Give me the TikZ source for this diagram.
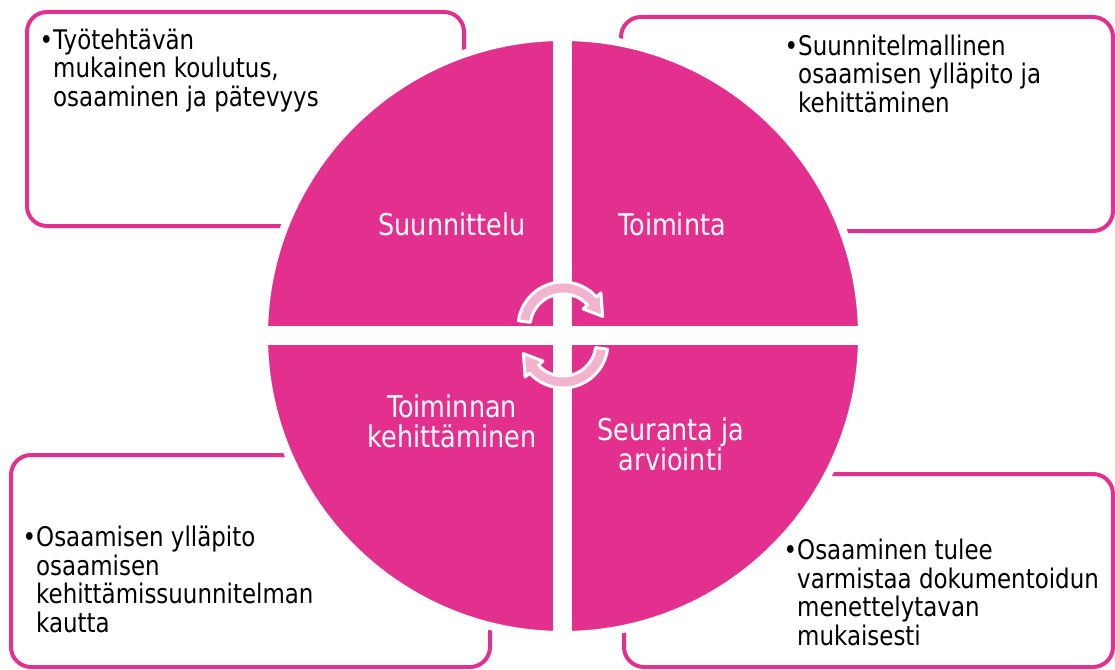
\documentclass[tikz,border=0pt]{standalone}
\usepackage{fontspec}
\setmainfont[FakeStretch=0.85]{DejaVu Sans}
\usetikzlibrary{positioning}
\definecolor{phasepink}{HTML}{E3308F}
\definecolor{cyclepink}{HTML}{F2B3CF}

\begin{document}
\begin{tikzpicture}[x=1pt,y=-1pt,
    infobox/.style={draw=phasepink, line width=4pt, rounded corners=20pt},
    boxtext/.style={align=left, anchor=base west, inner sep=0pt, font=\fontsize{27}{28.5}\selectfont},
    phase/.style={align=center, anchor=base, inner sep=0pt, text=white, font=\fontsize{30}{29.5}\selectfont},
    cyclearrow/.style={fill=cyclepink, draw=white, line width=3pt, line join=round}]
  \useasboundingbox (0,0) rectangle (1115,669);
  % text boxes behind the circle
  \draw[infobox] (27,12) rectangle (464,226); % top left
  \draw[infobox] (621,17) rectangle (1113,231); % top right
  \draw[infobox] (11,455) rectangle (490,667); % bottom left
  \draw[infobox] (624,474) rectangle (1113,667); % bottom right
  % circle and the white cross
  \filldraw[fill=phasepink, draw=white, line width=8pt] (563,336) circle[radius=299];
  \fill[white] (553,31) rectangle (572,641);
  \fill[white] (258,326) rectangle (868,345);
  % cycle arrows
  \coordinate (topc) at (563,327);
  \coordinate (botc) at (563,343);
  \draw[cyclearrow] ([shift={(188:45)}]topc) arc[start angle=188, end angle=318, radius=45]
    -- ([shift={(318:51)}]topc) -- ([shift={(345:41)}]topc) -- ([shift={(318:27)}]topc)
    -- ([shift={(318:33)}]topc) arc[start angle=318, end angle=188, radius=33] -- cycle;
  \draw[cyclearrow] ([shift={(8:45)}]botc) arc[start angle=8, end angle=138, radius=45]
    -- ([shift={(138:51)}]botc) -- ([shift={(165:41)}]botc) -- ([shift={(138:27)}]botc)
    -- ([shift={(138:33)}]botc) arc[start angle=138, end angle=8, radius=33] -- cycle;
  % phase labels (anchored at the last line)
  \node[phase] (plan) at (452,235) {Suunnittelu};
  \node[phase] (act) at (672,235) {Toiminta};
  \node[phase] (improve) at (452,447) {Toiminnan\\kehittäminen};
  \node[phase] (check) at (671,470) {Seuranta ja\\arviointi};
  % box texts (anchored at the last line)
  \node[boxtext] (plantext) at (53,106) {\llap{•}Työtehtävän\\mukainen koulutus,\\osaaminen ja pätevyys};
  \node[boxtext] (acttext) at (798,112) {\llap{•}Suunnitelmallinen\\osaamisen ylläpito ja\\kehittäminen};
  \node[boxtext] (improvetext) at (36,632) {\llap{•}Osaamisen ylläpito\\osaamisen\\kehittämissuunnitelman\\kautta};
  \node[boxtext] (checktext) at (797,645) {\llap{•}Osaaminen tulee\\varmistaa dokumentoidun\\menettelytavan\\mukaisesti};
\end{tikzpicture}
\end{document}
